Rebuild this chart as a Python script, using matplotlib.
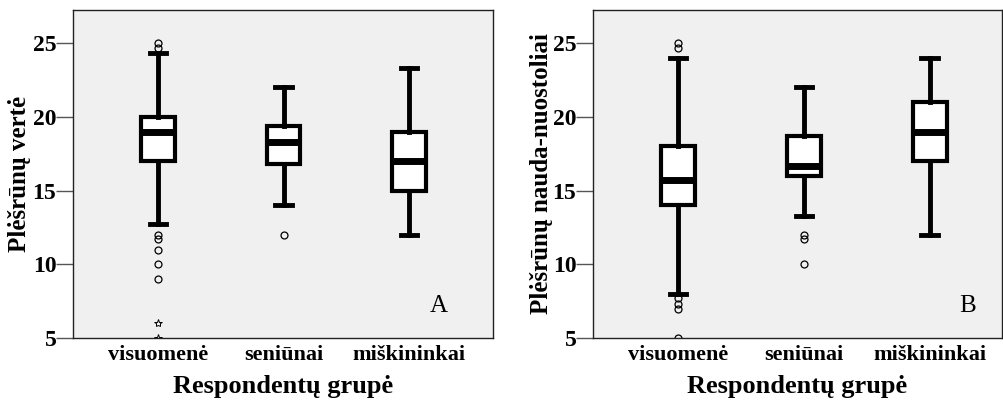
import matplotlib
matplotlib.use("Agg")
import matplotlib.pyplot as plt

categories = ["visuomenė", "seniūnai", "miškininkai"]

# Panel A: Plėšrūnų vertė
a_whislo = [12.7, 14.0, 12.0]
a_q1 = [17.0, 16.8, 15.0]
a_med = [19.0, 18.3, 17.0]
a_q3 = [20.0, 19.4, 19.0]
a_whishi = [24.3, 22.0, 23.3]
a_outliers = [[25.0, 24.7, 12.0, 11.7, 11.0, 10.0, 9.0], [12.0], []]
a_extremes = [[6.0, 5.0], [], []]

# Panel B: Plėšrūnų nauda-nuostoliai
b_whislo = [8.0, 13.3, 12.0]
b_q1 = [14.0, 16.0, 17.0]
b_med = [15.7, 16.7, 19.0]
b_q3 = [18.0, 18.7, 21.0]
b_whishi = [24.0, 22.0, 24.0]
b_outliers = [[25.0, 24.7, 7.7, 7.3, 7.0, 5.0], [12.0, 11.7, 10.0], []]
b_extremes = [[], [], []]

yticks = [5, 10, 15, 20, 25]

W, H = 1004, 403
fig = plt.figure(figsize=(W / 100, H / 100), dpi=100)
SERIF = ["Liberation Serif", "DejaVu Serif"]


def panel(rect, xlim, whislo, q1, med, q3, whishi, outl, extr, ylabel,
          ylab_x, letter, letter_x):
    ax = fig.add_axes(rect)
    ax.set_facecolor("#f0f0f0")
    stats = []
    for i in range(len(categories)):
        stats.append(dict(whislo=whislo[i], q1=q1[i], med=med[i], q3=q3[i],
                          whishi=whishi[i], fliers=outl[i]))
    ax.bxp(stats, positions=[1, 2, 3], widths=0.27, patch_artist=True,
           boxprops=dict(facecolor="white", edgecolor="black", linewidth=3),
           medianprops=dict(color="black", linewidth=5),
           whiskerprops=dict(color="black", linewidth=3.5),
           capprops=dict(color="black", linewidth=3.5),
           capwidths=0.13,
           flierprops=dict(marker="o", markersize=5, markerfacecolor="none",
                           markeredgecolor="black", markeredgewidth=0.9))
    for i, ex in enumerate(extr):
        if ex:
            ax.plot([i + 1] * len(ex), ex, linestyle="none", marker="*",
                    markersize=6, markerfacecolor="none", markeredgecolor="black",
                    markeredgewidth=0.7)
    ax.set_xlim(*xlim)
    ax.set_ylim(5, 27.25)
    ax.set_yticks(yticks)
    ax.set_yticklabels([str(t) for t in yticks], family=SERIF, fontsize=17,
                       fontweight="bold")
    ax.set_xticks([1, 2, 3])
    ax.set_xticklabels(categories, family=SERIF, fontsize=16, fontweight="bold")
    ax.tick_params(axis="x", length=0, pad=5)
    ax.tick_params(axis="y", length=12, width=1, direction="out", pad=0,
                   color="#555555")
    for s in ax.spines.values():
        s.set_linewidth(1)
        s.set_color("#222222")
    ax.set_xlabel("Respondentų grupė", family=SERIF, fontsize=19,
                  fontweight="bold")
    ax.xaxis.set_label_coords(0.5, -0.114)
    ax.set_ylabel(ylabel, family=SERIF, fontsize=18, fontweight="bold")
    ax.yaxis.set_label_coords(ylab_x, 0.5)
    ax.text(letter_x, 6.4, letter, family=SERIF, fontsize=18, ha="center",
            va="bottom", transform=ax.transData)
    return ax


bottom = (H - 338) / H
height = (338 - 10) / H
axA = panel([73 / W, bottom, 420 / W, height], (0.322, 3.67),
            a_whislo, a_q1, a_med, a_q3, a_whishi, a_outliers, a_extremes,
            "Plėšrūnų vertė", -0.10, "A", 3.24)
axB = panel([593 / W, bottom, 409 / W, height], (0.325, 3.575),
            b_whislo, b_q1, b_med, b_q3, b_whishi, b_outliers, b_extremes,
            "Plėšrūnų nauda-nuostoliai", -0.099, "B", 3.3)

fig.savefig("out.png", dpi=100)
